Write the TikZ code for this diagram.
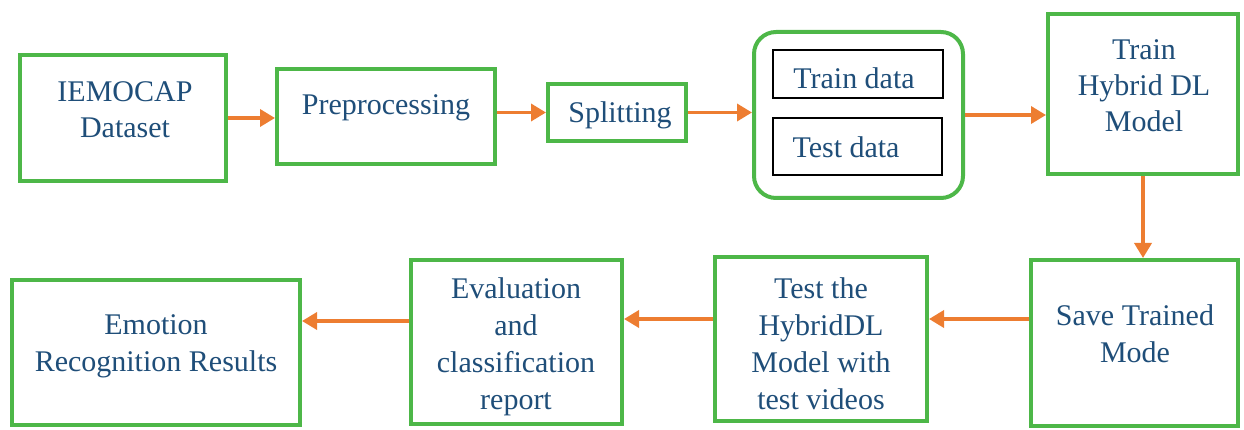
\documentclass[tikz,border=0pt]{standalone}
\usepackage{fontspec}
\setmainfont{LiberationSerif}[Extension=.ttf,UprightFont=*-Regular,BoldFont=*-Bold,ItalicFont=*-Italic,BoldItalicFont=*-BoldItalic]
\usetikzlibrary{arrows.meta,calc}
\definecolor{gbox}{HTML}{4DB748}
\definecolor{oarr}{HTML}{ED7D31}
\definecolor{tblue}{HTML}{1F4E79}
\begin{document}
\begin{tikzpicture}[x=1pt,y=-1pt,
  gbox/.style={draw=gbox,line width=4pt,inner sep=0pt,fill=white},
  bbox/.style={draw=black,line width=2.2pt,inner sep=0pt},
  txt/.style={text=tblue,font=\rmfamily\fontsize{30}{36}\selectfont,align=center,inner sep=0pt},
  txtb/.style={text=tblue,font=\rmfamily\fontsize{30}{37}\selectfont,align=center,inner sep=0pt},
  arr/.style={draw=oarr,line width=3.5pt,-{Triangle[length=15pt,width=17pt]}}]
\useasboundingbox (0,0) rectangle (1244,430);
% top row boxes
\node[gbox,minimum width=206pt,minimum height=126pt] (iem) at (123,118) {};
\node[gbox,minimum width=218pt,minimum height=95pt] (pre) at (386,116.5) {};
\node[gbox,minimum width=138pt,minimum height=57pt] (spl) at (617,112.5) {};
\node[gbox,rounded corners=22pt,minimum width=209pt,minimum height=166pt] (cont) at (858.5,115) {};
\node[bbox,minimum width=170pt,minimum height=48pt] (trd) at (858,74) {};
\node[bbox,minimum width=169pt,minimum height=57pt] (ted) at (857.5,146.5) {};
\node[gbox,minimum width=190pt,minimum height=160pt] (thd) at (1143,94) {};
% bottom row boxes
\node[gbox,minimum width=207pt,minimum height=166pt] (sav) at (1134.5,343) {};
\node[gbox,minimum width=212pt,minimum height=164pt] (tst) at (821,339) {};
\node[gbox,minimum width=211pt,minimum height=164pt] (eva) at (516.5,342) {};
\node[gbox,minimum width=288pt,minimum height=145pt] (emo) at (156,352.5) {};
% texts
\node[txt] (iemt) at (125,110) {IEMOCAP\\Dataset};
\node[txt] (pret) at (386,108) {Preprocessing};
\node[txt] (splt) at (620,115) {Splitting};
\node[txt] (trdt) at (854,78) {Train data};
\node[txt] (tedt) at (846,147) {Test data};
\node[txt] (thdt) at (1144,86) {Train\\Hybrid DL\\Model};
\node[txtb] (savt) at (1135,334) {Save Trained\\Mode};
\node[txtb] (tstt) at (821,344) {Test the\\HybridDL\\Model with\\test videos};
\node[txtb] (evat) at (516,347) {Evaluation\\and\\classification\\report};
\node[txtb] (emot) at (156,346) {Emotion\\Recognition Results};
% arrows
\draw[arr] (iem.east) -- (iem.east -| pre.west);
\draw[arr] (spl.west -| pre.east) -- (spl.west);
\draw[arr] (spl.east) -- (spl.east -| cont.west);
\draw[arr] (cont.east) -- (cont.east -| thd.west);
\draw[arr] (thd.south) -- (thd.south |- sav.north);
\draw[arr] ([yshift=24pt]sav.west) -- ([yshift=24pt]sav.west -| tst.east);
\draw[arr] ([yshift=20pt]tst.west) -- ([yshift=20pt]tst.west -| eva.east);
\draw[arr] ([yshift=21pt]eva.west) -- ([yshift=21pt]eva.west -| emo.east);
\end{tikzpicture}
\end{document}
